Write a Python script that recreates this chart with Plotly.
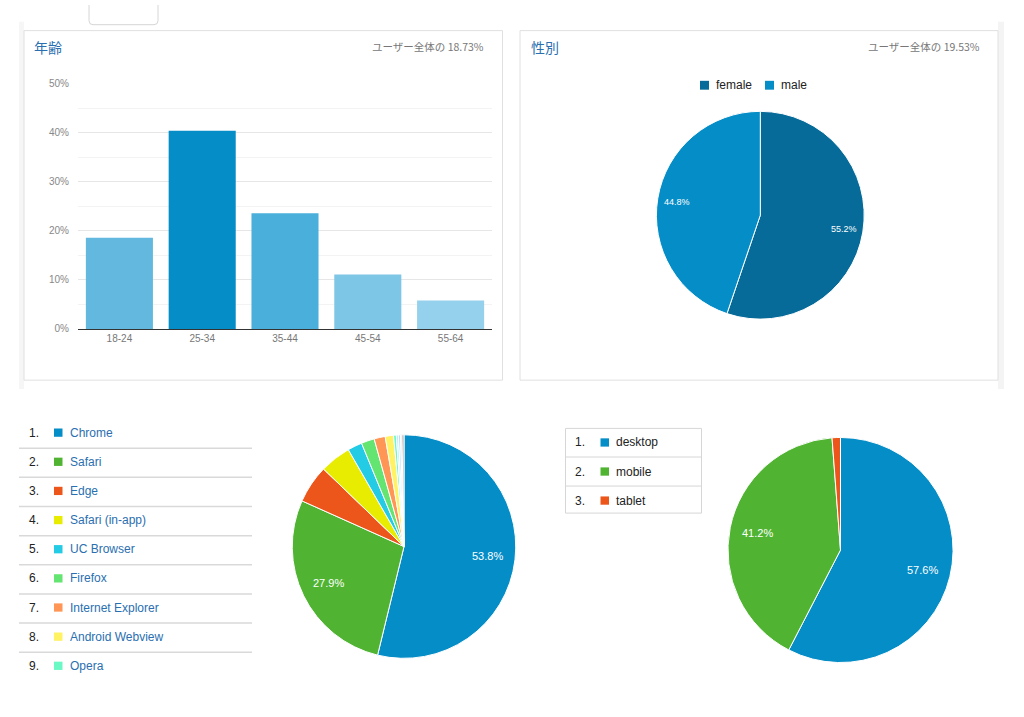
import math
import plotly.graph_objects as go

# age bars
age_groups = ["18-24", "25-34", "35-44", "45-54", "55-64"]
age_share = [18.6, 40.4, 23.6, 11.1, 5.8]
age_colors = ["#62b8de", "#058dc7", "#4aafda", "#7ec6e5", "#95d0ec"]

# gender pie
genders = ["female", "male"]
gender_share = [55.2, 44.8]
gender_colors = ["#066b99", "#058dc7"]

# browser pie
browsers = ["Chrome", "Safari", "Edge", "Safari (in-app)", "UC Browser", "Firefox",
            "Internet Explorer", "Android Webview", "Opera", "Other 1", "Other 2",
            "Other 3", "Other 4"]
browser_share = [53.8, 27.9, 5.5, 4.5, 2.1, 1.9, 1.6, 1.2, 0.4, 0.3, 0.3, 0.2, 0.3]
browser_colors = ["#058dc7", "#50b432", "#ed561b", "#e8ec00", "#24cbe5", "#64e572",
                  "#ff9655", "#fff263", "#6af9c4", "#b2f0f8", "#b2deff", "#d8d8d8", "#aaaaaa"]
browser_rows = 9

# device pie
devices = ["desktop", "mobile", "tablet"]
device_share = [57.6, 41.2, 1.2]
device_colors = ["#058dc7", "#50b432", "#ed561b"]

W, H = 1024, 717
JP = "Noto Sans CJK JP, sans-serif"
LAT = "Liberation Sans, Arial, sans-serif"
TITLE_BLUE = "#2a6fb0"


def px(x):
    return x / W


def py(y):
    return 1 - y / H


fig = go.Figure()

fig.add_trace(go.Bar(
    x=age_groups, y=age_share,
    marker=dict(color=age_colors, line=dict(width=0)),
    showlegend=False, hoverinfo="x+y",
))

shapes = []
annotations = []

# pies: (labels, values, colors, centre x, centre y, radius, label distance)
pies = [
    (genders, gender_share, gender_colors, 760.3, 213.5, 105.5, 0.8),
    (browsers, browser_share, browser_colors, 404, 550, 113.5, 0.74),
    (devices, device_share, device_colors, 840.5, 553.5, 114.3, 0.74),
]
for labels, vals, cols, cx, cy, rad, k in pies:
    fig.add_trace(go.Pie(
        labels=labels, values=vals, sort=False, direction="clockwise",
        marker=dict(colors=cols, line=dict(color="white", width=1)),
        textinfo="none", showlegend=False,
        domain=dict(x=[px(cx - rad), px(cx + rad)], y=[py(cy + rad), py(cy - rad)]),
    ))
    total = sum(vals)
    acc = 0
    for v in vals:
        mid = (acc + v / 2) / total * 2 * math.pi
        acc += v
        if v < 20:
            continue
        annotations.append(dict(xref="paper", yref="paper",
                                x=px(cx + k * rad * math.sin(mid)),
                                y=py(cy - k * rad * math.cos(mid)),
                                text=f"{v:.1f}%", showarrow=False,
                                xanchor="center", yanchor="middle",
                                font=dict(family=LAT, size=9 if rad < 110 else 11, color="white")))

# page background strips and panels
shapes.append(dict(type="rect", xref="paper", yref="paper", x0=px(19), x1=px(24),
                   y0=py(390), y1=py(17), fillcolor="#f6f6f6", line=dict(width=0), layer="below"))
shapes.append(dict(type="rect", xref="paper", yref="paper", x0=px(998), x1=px(1004),
                   y0=py(390), y1=py(17), fillcolor="#f4f4f4", line=dict(width=0), layer="below"))
for x0, x1 in [(24, 502.5), (520, 998)]:
    shapes.append(dict(type="rect", xref="paper", yref="paper", x0=px(x0), x1=px(x1),
                       y0=py(381), y1=py(26), fillcolor="white",
                       line=dict(color="#e0e0e0", width=1), layer="below"))

# cut-off tab at top
tx0, tx1, ty = px(89), px(158), py(20)
r = 4 / W
rv = 4 / H
shapes.append(dict(type="path", xref="paper", yref="paper",
                   path=f"M {tx0} {py(0)} L {tx0} {ty + rv} Q {tx0} {ty} {tx0 + r} {ty} "
                        f"L {tx1 - r} {ty} Q {tx1} {ty} {tx1} {ty + rv} L {tx1} {py(0)}",
                   line=dict(color="#d6d6d6", width=1), fillcolor="white", layer="below"))

# panel titles
for x, t in [(32, "年齢"), (529, "性別")]:
    annotations.append(dict(xref="paper", yref="paper", x=px(x), y=py(43), text=t,
                            showarrow=False, xanchor="left", yanchor="middle",
                            font=dict(family=JP, size=14, color=TITLE_BLUE)))
for x, t in [(486, "ユーザー全体の 18.73%"), (982, "ユーザー全体の 19.53%")]:
    annotations.append(dict(xref="paper", yref="paper", x=px(x), y=py(42), text=t,
                            showarrow=False, xanchor="right", yanchor="middle",
                            font=dict(family=JP, size=10.5, color="#777777")))

# gender legend
leg_x = [700, 765]
for i, g in enumerate(genders):
    shapes.append(dict(type="rect", xref="paper", yref="paper", x0=px(leg_x[i]), x1=px(leg_x[i] + 9),
                       y0=py(86), y1=py(77), fillcolor=gender_colors[i], line=dict(width=0)))
    annotations.append(dict(xref="paper", yref="paper", x=px(leg_x[i] + 13.5), y=py(81.5), text=g,
                            showarrow=False, xanchor="left", yanchor="middle",
                            font=dict(family=LAT, size=12, color="#222222")))

# browser table
row_y0, row_step = 434.3, 29.6
for i in range(browser_rows):
    yc = row_y0 + i * row_step
    annotations.append(dict(xref="paper", yref="paper", x=px(40.5), y=py(yc), text=f"{i + 1}.",
                            showarrow=False, xanchor="right", yanchor="middle",
                            font=dict(family=LAT, size=12, color="#222222")))
    shapes.append(dict(type="rect", xref="paper", yref="paper", x0=px(54), x1=px(62.5),
                       y0=py(yc + 4.2), y1=py(yc - 4.2), fillcolor=browser_colors[i],
                       line=dict(width=0)))
    annotations.append(dict(xref="paper", yref="paper", x=px(67.5), y=py(yc), text=browsers[i],
                            showarrow=False, xanchor="left", yanchor="middle",
                            font=dict(family=LAT, size=12, color=TITLE_BLUE)))
    if i < browser_rows - 1:
        ys = yc + row_step / 2 + 1
        shapes.append(dict(type="line", xref="paper", yref="paper", x0=px(19), x1=px(252),
                           y0=py(ys), y1=py(ys), line=dict(color="#d9d9d9", width=1.5)))

# device table
shapes.append(dict(type="rect", xref="paper", yref="paper", x0=px(565.5), x1=px(701.5),
                   y0=py(516), y1=py(430), fillcolor="rgba(0,0,0,0)",
                   line=dict(color="#d6d6d6", width=1)))
dev_y0, dev_step = 444.3, 29.5
for i, d in enumerate(devices):
    yc = dev_y0 + i * dev_step
    annotations.append(dict(xref="paper", yref="paper", x=px(587), y=py(yc), text=f"{i + 1}.",
                            showarrow=False, xanchor="right", yanchor="middle",
                            font=dict(family=LAT, size=12, color="#222222")))
    shapes.append(dict(type="rect", xref="paper", yref="paper", x0=px(600.5), x1=px(609),
                       y0=py(yc + 4.2), y1=py(yc - 4.2), fillcolor=device_colors[i],
                       line=dict(width=0)))
    annotations.append(dict(xref="paper", yref="paper", x=px(614), y=py(yc), text=d,
                            showarrow=False, xanchor="left", yanchor="middle",
                            font=dict(family=LAT, size=12, color="#222222")))
    if i < len(devices) - 1:
        ys = yc + dev_step / 2
        shapes.append(dict(type="line", xref="paper", yref="paper", x0=px(565.5), x1=px(701.5),
                           y0=py(ys), y1=py(ys), line=dict(color="#d6d6d6", width=1)))

fig.update_layout(
    width=W, height=H,
    margin=dict(l=0, r=0, t=0, b=0),
    paper_bgcolor="white", plot_bgcolor="rgba(0,0,0,0)",
    bargap=0.19,
    font=dict(family=LAT, color="#222222"),
    showlegend=False,
    xaxis=dict(domain=[px(78), px(492)], showgrid=False, ticks="", showline=True,
               linecolor="#333333", linewidth=1,
               tickfont=dict(size=10, color="#777777"), fixedrange=True),
    yaxis=dict(domain=[py(329), py(80)], range=[0, 50], dtick=10, ticksuffix="%",
               showgrid=True, gridcolor="#e6e6e6", gridwidth=1, zeroline=False,
               minor=dict(dtick=5, showgrid=True, gridcolor="#f3f3f3"),
               ticks="", ticklabelstandoff=8,
               tickfont=dict(size=10, color="#888888"), fixedrange=True),
    shapes=shapes,
    annotations=annotations,
)

fig.write_html("out.html", config={"displayModeBar": False},
               post_script="document.body.style.margin='0px';")
